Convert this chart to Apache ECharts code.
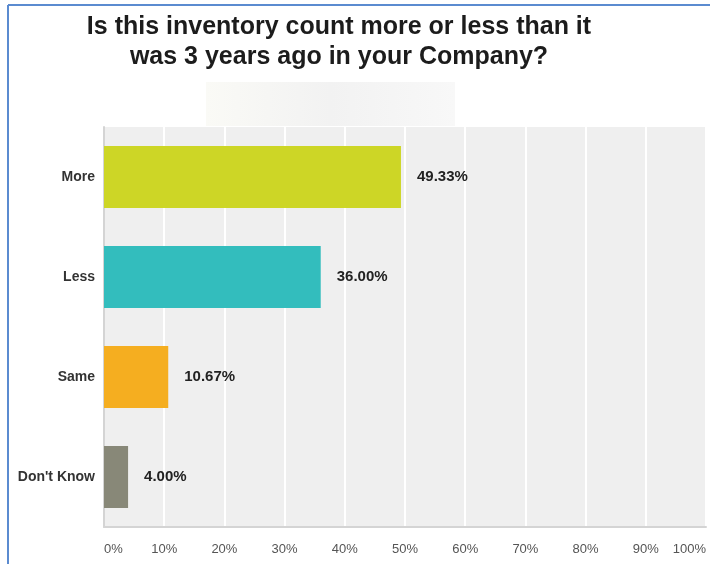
<!DOCTYPE html>
<html>
<head>
<meta charset="utf-8">
<script src="https://cdn.jsdelivr.net/npm/echarts@6/dist/echarts.min.js"></script>
<style>
html,body{margin:0;padding:0;background:#fff;}
#chart{width:710px;height:564px;}
</style>
</head>
<body>
<div id="chart"></div>
<script>
const titleText = 'Is this inventory count more or less than it\nwas 3 years ago in your Company?';
const categories = ['More', 'Less', 'Same', "Don't Know"];
const values = [49.33, 36.00, 10.67, 4.00];
const barColors = ['#cdd626', '#33bdbd', '#f5ae20', '#888878'];
const tickLabels = ['0%', '10%', '20%', '30%', '40%', '50%', '60%', '70%', '80%', '90%', '100%'];

const chart = echarts.init(document.getElementById('chart'), null, {renderer: 'canvas'});
chart.setOption({
  backgroundColor: '#ffffff',
  animation: false,
  title: {
    text: titleText,
    left: 334,
    top: 7,
    textAlign: 'center',
    textStyle: {
      fontFamily: 'Liberation Sans, Arial, sans-serif',
      fontSize: 25,
      fontWeight: 'bold',
      color: '#1c1c1c',
      lineHeight: 30
    }
  },
  graphic: [
    {type: 'rect', z: -1, shape: {x: 206, y: 82, width: 249, height: 44},
     style: {fill: new echarts.graphic.LinearGradient(0, 0, 1, 0, [
       {offset: 0, color: '#fafaf6'}, {offset: 0.5, color: '#f2f2f2'}, {offset: 1, color: '#f8f8f8'}])}},
    {type: 'line', shape: {x1: 8, y1: 5, x2: 710, y2: 5}, style: {stroke: '#5b8bd0', lineWidth: 2}},
    {type: 'line', shape: {x1: 8, y1: 5, x2: 8, y2: 564}, style: {stroke: '#5b8bd0', lineWidth: 2}}
  ],
  grid: {
    left: 104, right: 4, top: 127, bottom: 37,
    show: true, backgroundColor: '#efefef', borderWidth: 0
  },
  xAxis: {
    type: 'value', min: 0, max: 100, interval: 10,
    axisLine: {show: true, lineStyle: {color: '#d4d4d4', width: 2}},
    axisTick: {show: false},
    splitLine: {show: true, lineStyle: {color: '#ffffff', width: 2}},
    axisLabel: {
      margin: 16,
      fontFamily: 'Liberation Sans, Arial, sans-serif',
      fontSize: 13, color: '#555555',
      alignMinLabel: 'left', alignMaxLabel: 'right',
      formatter: function (v) { return tickLabels[Math.round(v / 10)]; }
    }
  },
  yAxis: {
    type: 'category', data: categories, inverse: true,
    axisLine: {show: true, lineStyle: {color: '#d4d4d4', width: 2}},
    axisTick: {show: false},
    splitLine: {show: false},
    axisLabel: {
      margin: 9,
      fontFamily: 'Liberation Sans, Arial, sans-serif',
      fontSize: 14, fontWeight: 'bold', color: '#333333'
    }
  },
  series: [{
    type: 'bar',
    data: values.map((v, i) => ({value: v, itemStyle: {color: barColors[i]}})),
    barWidth: '62%',
    label: {
      show: true, position: 'right', distance: 16,
      fontFamily: 'Liberation Sans, Arial, sans-serif',
      fontSize: 15, fontWeight: 'bold', color: '#222222',
      formatter: p => p.value.toFixed(2) + '%'
    }
  }]
});
</script>
</body>
</html>
